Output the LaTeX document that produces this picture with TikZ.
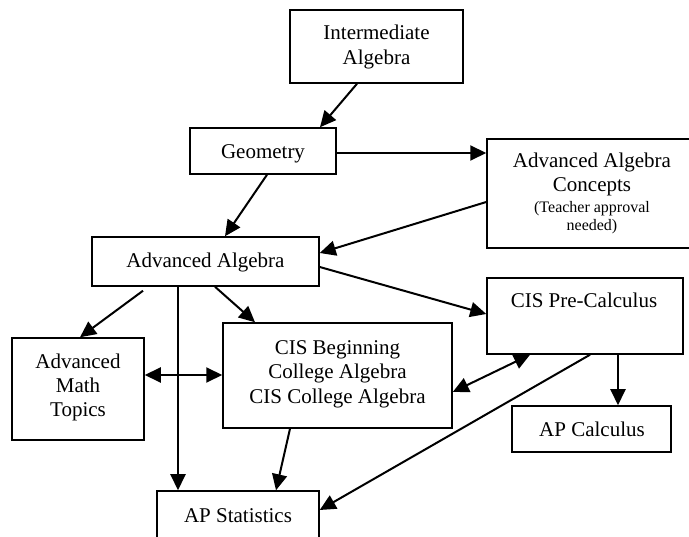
\documentclass[tikz,border=0pt]{standalone}
\usepackage{fontspec}
\setmainfont{Liberation Serif}
\usetikzlibrary{arrows.meta}
\begin{document}
\begin{tikzpicture}[x=1pt,y=-1pt,
  box/.style={draw,line width=1.5pt,inner sep=0pt},
  txt/.style={anchor=base,inner sep=0pt,font=\fontsize{21}{25}\selectfont},
  small/.style={anchor=base,inner sep=0pt,font=\fontsize{16}{18}\selectfont},
  conn/.style={line width=2pt,>={Triangle[length=16pt,width=15pt]}}]
\useasboundingbox (0,0) rectangle (689,537);
\clip (0,0) rectangle (689,537);
% boxes
\node[box,minimum width=173pt,minimum height=73pt] (ia) at (376.5,46.5) {};
\node[box,minimum width=146pt,minimum height=46pt] (geo) at (263,151) {};
\node[box,minimum width=210pt,minimum height=109pt] (aac) at (592,193.5) {};
\node[box,minimum width=227pt,minimum height=49pt] (aa) at (205.5,261.5) {};
\node[box,minimum width=196pt,minimum height=76pt] (pc) at (585,316) {};
\node[box,minimum width=132pt,minimum height=102pt] (amt) at (78,389) {};
\node[box,minimum width=229pt,minimum height=105pt] (cb) at (337.5,375.5) {};
\node[box,minimum width=159pt,minimum height=46pt] (apc) at (591.5,429) {};
\node[box,minimum width=162pt,minimum height=69pt] (aps) at (238,525.5) {};
% texts
\node[txt] (ia1) at (376.5,40) {Intermediate};
\node[txt] (ia2) at (376.5,65) {Algebra};
\node[txt] (geo1) at (263,159) {Geometry};
\node[txt] (aac1) at (592,168) {Advanced Algebra};
\node[txt] (aac2) at (592,192) {Concepts};
\node[small] (aac3) at (592,213) {(Teacher approval};
\node[small] (aac4) at (592,231) {needed)};
\node[txt] (aa1) at (205.5,268) {Advanced Algebra};
\node[txt] (pc1) at (584,308) {CIS Pre-Calculus};
\node[txt] (amt1) at (78,369) {Advanced};
\node[txt] (amt2) at (78,393) {Math};
\node[txt] (amt3) at (78,417) {Topics};
\node[txt] (cb1) at (337.5,355) {CIS Beginning};
\node[txt] (cb2) at (337.5,379) {College Algebra};
\node[txt] (cb3) at (337.5,404) {CIS College Algebra};
\node[txt] (apc1) at (592,437) {AP Calculus};
\node[txt] (aps1) at (238,522) {AP Statistics};
% connectors
\draw[conn,->] ([xshift=-19.5pt]ia.south) -- ([xshift=57pt]geo.north);
\draw[conn,->] ([yshift=-2pt]geo.east) -- ([yshift=-2pt]geo.east -| aac.west);
\draw[conn,->] ([xshift=4pt]geo.south) -- ([xshift=19.5pt]aa.north);
\draw[conn,->] ([yshift=-8.5pt]aac.west) -- ([yshift=8.5pt]aa.east);
\draw[conn,->] ([yshift=-5.5pt]aa.east) -- ([yshift=2pt]pc.west);
\draw[conn,->] ([xshift=-62.5pt,yshift=-4pt]aa.south) -- ([xshift=2pt]amt.north);
\draw[conn,->] ([xshift=-27.5pt]aa.south) -- ([xshift=-27.5pt]aa.south |- aps.north);
\draw[conn,->] ([xshift=9.5pt]aa.south) -- ([xshift=-82.5pt]cb.north);
\draw[conn,<->] ([yshift=14pt]amt.east) -- ([yshift=14pt]amt.east -| cb.west);
\draw[conn,<->] ([yshift=-16.5pt]cb.east) -- ([xshift=-55pt]pc.south);
\draw[conn,->] ([xshift=33pt]pc.south) -- ([xshift=33pt]pc.south |- apc.north);
\draw[conn,->] ([xshift=-47.5pt]cb.south) -- ([xshift=38pt]aps.north);
\draw[conn,->] ([xshift=5pt]pc.south) -- ([yshift=15.5pt]aps.east);
\end{tikzpicture}
\end{document}
